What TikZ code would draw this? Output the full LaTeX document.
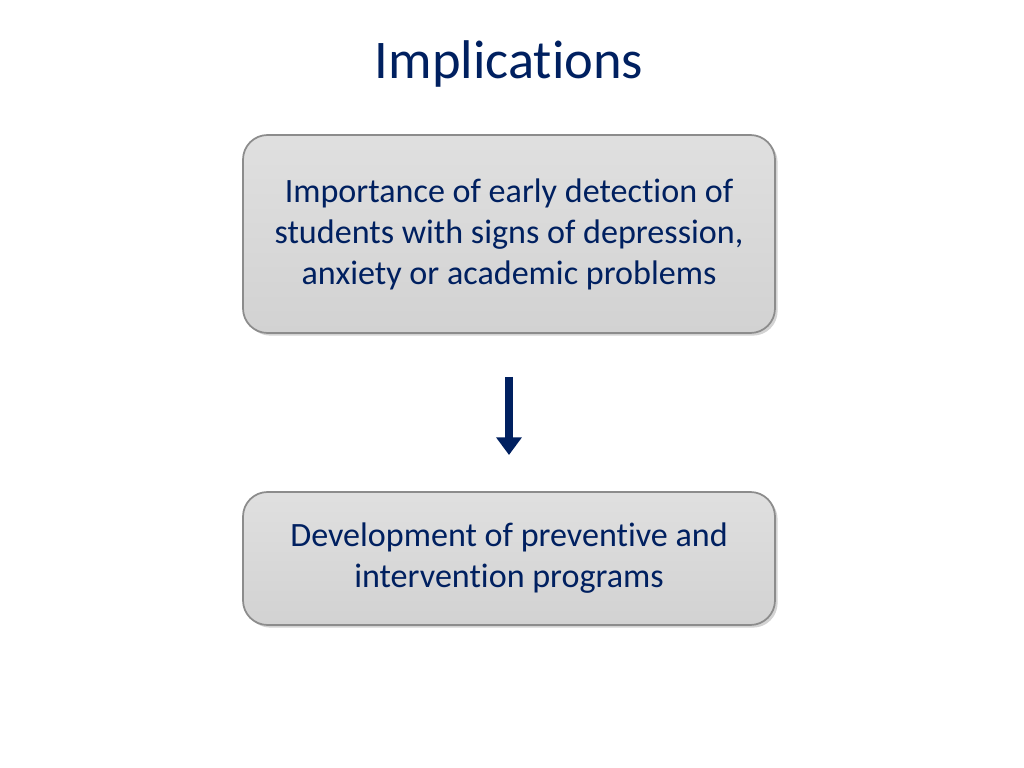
\documentclass[tikz,border=0pt]{standalone}
\usepackage{fontspec}
\setmainfont{Carlito}[Ligatures={NoCommon}]
\usetikzlibrary{arrows.meta,shadows}
\definecolor{navy}{RGB}{0,32,96}
\definecolor{boxgray}{RGB}{210,210,210}
\definecolor{edgegray}{RGB}{140,140,140}

\begin{document}
\begin{tikzpicture}[
  every node/.style = {text=navy, align=center},
  implbox/.style = {draw=edgegray, line width=1pt, rounded corners=14pt,
    top color=boxgray!70, bottom color=boxgray, middle color=boxgray!85,
    drop shadow={opacity=0.35, shadow xshift=1.5pt, shadow yshift=-1.5pt},
    minimum width=10.64cm, font=\fontsize{19.4}{23.3}\selectfont}]
  \useasboundingbox (0,0) rectangle (20.48,-15.36);
  % title
  \node (title) at (10.18,-1.28) {\fontsize{31}{36}\selectfont Implications};
  % boxes
  \node[implbox, minimum height=3.96cm] (detect) at (10.18,-4.68)
    {Importance of early detection of\\students with signs of depression,\\anxiety or academic problems};
  \node[implbox, minimum height=2.66cm] (develop) at (10.18,-11.17)
    {Development of preventive and\\intervention programs};
  % arrow
  \coordinate (astart) at (10.18,-7.54);
  \coordinate (aend) at (10.18,-9.10);
  \draw[navy, line width=4.5pt, -{Triangle[length=10pt,width=14pt]}] (astart) -- (aend);
\end{tikzpicture}
\end{document}
